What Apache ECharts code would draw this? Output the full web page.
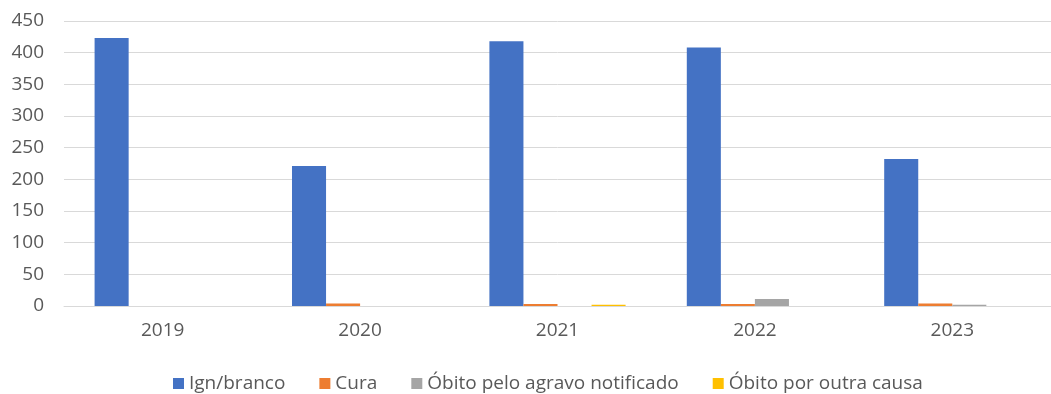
<!DOCTYPE html>
<html>
<head>
<meta charset="utf-8">
<script src="https://cdn.jsdelivr.net/npm/echarts@6/dist/echarts.min.js"></script>
<style>
  html, body { margin: 0; padding: 0; background: #fff; }
  #chart { width: 1051px; height: 394px; }
</style>
</head>
<body>
<div id="chart"></div>
<script>
const years = ['2019', '2020', '2021', '2022', '2023'];
const seriesNames = ['Ign/branco', 'Cura', 'Óbito pelo agravo notificado', 'Óbito por outra causa'];
const ignBranco = [423, 221, 418, 408, 232];
const cura = [0, 4, 3, 3, 4];
const obitoAgravo = [0, 0, 0, 11, 2];
const obitoOutra = [0, 0, 2, 0, 0];
const yTicks = { min: 0, max: 450, interval: 50 };

const colors = ['#4472C4', '#ED7D31', '#A5A5A5', '#FFC000'];
const values = [ignBranco, cura, obitoAgravo, obitoOutra];
const font = 'Open Sans, Noto Sans, sans-serif';

const chart = echarts.init(document.getElementById('chart'), null, { renderer: 'canvas' });
chart.setOption({
  animation: false,
  color: colors,
  grid: { left: 64, top: 21, width: 992, height: 285 },
  legend: {
    top: 369,
    left: 168,
    itemWidth: 11,
    itemHeight: 11,
    itemGap: 34,
    icon: 'rect',
    textStyle: { fontFamily: font, fontSize: 19, color: '#595959' },
    data: seriesNames
  },
  xAxis: {
    type: 'category',
    data: years,
    axisLine: { lineStyle: { color: '#D9D9D9', width: 1 } },
    axisTick: { show: false },
    axisLabel: { fontFamily: font, fontSize: 19, color: '#595959', margin: 15 }
  },
  yAxis: {
    type: 'value',
    min: yTicks.min,
    max: yTicks.max,
    interval: yTicks.interval,
    axisLine: { show: false },
    axisTick: { show: false },
    splitLine: { lineStyle: { color: '#D9D9D9', width: 1 } },
    axisLabel: { fontFamily: font, fontSize: 19, color: '#595959', margin: 20 }
  },
  series: seriesNames.map((name, i) => ({
    name,
    type: 'bar',
    data: values[i],
    barGap: '0%',
    barCategoryGap: '31%',
    itemStyle: { color: colors[i] }
  }))
});
</script>
</body>
</html>
